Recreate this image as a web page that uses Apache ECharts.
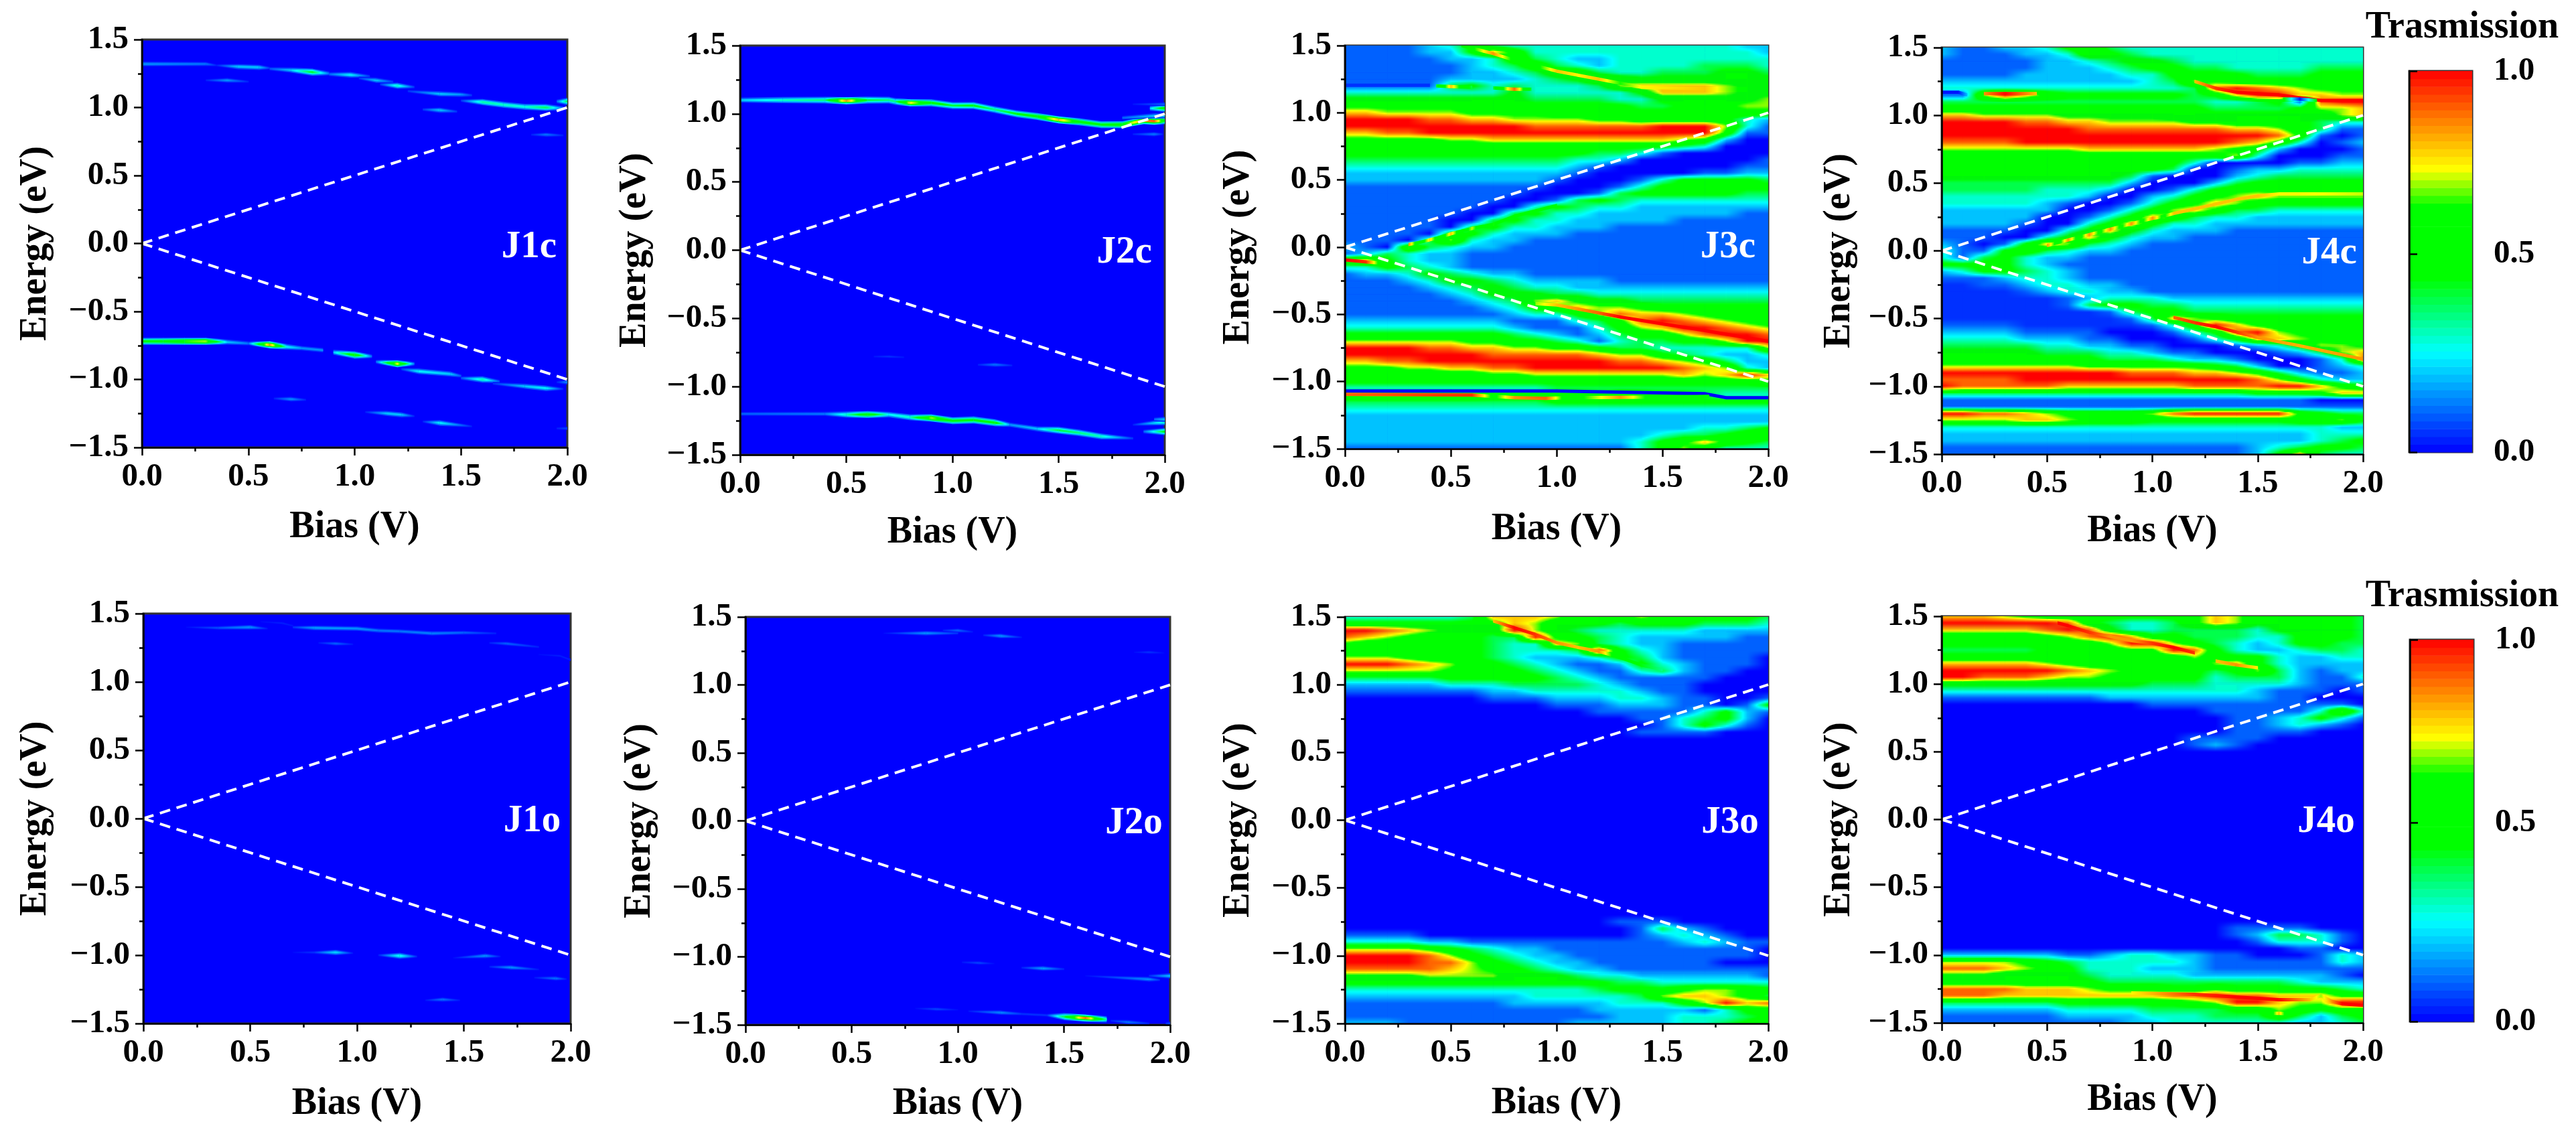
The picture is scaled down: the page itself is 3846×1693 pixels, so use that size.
<!DOCTYPE html>
<html><head><meta charset="utf-8">
<style>html,body{margin:0;padding:0;background:#fff}#c{width:3846px;height:1693px}</style>
<script src="https://cdn.jsdelivr.net/npm/echarts@6/dist/echarts.min.js"></script>
</head><body><div id="c"></div>
<script>
// Transmission. Row = one energy (1.50 eV down to -1.50 eV in 0.05 steps),
// column = one bias (0.0 V to 2.0 V in 0.1 steps). Each digit is tenths of T, 'a' = 1.0, 'o' = 0.05.
const biasValues=[0,.1,.2,.3,.4,.5,.6,.7,.8,.9,1,1.1,1.2,1.3,1.4,1.5,1.6,1.7,1.8,1.9,2];
const blank='000000000000000000000';
const J3cRows=[
'111123543333333333322','111122586333333333332','111112236432233333333','111111234643233334443','111111223466433444554','111112222345765555555','111114534333478888765','333333335333335888766','555555555444433555667','666666555555554455677',
'887777666655555556666','aaaa99887777665555532','aaaaaaaaa999999aaa731','8899aaaaaaaaaaaaaa611','666667788888888876200','555555555555555543000','555555555555443100000','444444444443320000001','333333333332100000011','222222222221000001122',
'222222222210001355554','111111111100013555555','111111111000145555544','111111110014543333333','111111100354332222222','111111004533222222211','111110045332222211111','111110453322211111111','111105532221111111111','111047322111111111111',
'210743221111111111111','124322111111111111111','785322111111111111111','335432111111111111111','122354322111111111111','111235543222211111111','111123454332222222222','111112355544333333333','111111234786554444444','111111123568776555555',
'111111112335798876555','222222221113469a98765','3333333321113578aa987','555555554321245579aa9','7777776655431344557aa','aaaa99887766544333337','aaaaaaa99999877543223','8899aaaaaaaaa99876422','666778899aaaaaaa98732','5555555667777777878a8',
'555555555555555555556','333333333344444444444','677777766666566554333','444444444455555555555','333333333333333333333','222222222222222222222','222222222222222222222','222222222222222223345','222222222222222344566','222222222222223568654',
'111111111111113575333'];
const J4cRows=[
'211223564333333333333','211122365433333333333','111112234554333333333','111112223455443333444','111122222335555444555','222222222234765555555','33333333333349a987666','117a86555555458aa8877','4444444444444334519aa','555555555555544445778',
'887777666665555555578','aaaa99887777665555433','aaaaaaa99999998875411','aaaaaaaaaaaaaaaa96101','9999aaaaaaaaaa9863012','777777788888876520001','555555555555567300011','555555555555300001122','555555555554001223333','555555555410002344444',
'444444444200024555555','444443332001356666555','333333320023567877777','333332100135687555555','222222001357864433333','222220013586433222222','222210035853322222222','111100358532221111111','111003585322111111111','210158743211111111111',
'311564322111111111111','314532211111111111111','555532111111111111111','235543211111111111111','111233211111111111111','oo1123322111111111111','oooo12332211111111111','oooooo123332222222222','oooooo145544333333333','oooooooo1455444444444',
'ooooooooo148765555555','1111oooooo136a8655555','222211110001359a76655','333322211000135887655','444443322110001235776','555554443321100012478','555555554443221000139','777777766666654200123','aaaaaaaaa999887642112','9999aaaaaaaaaaa975322',
'a999998888889999aa865','444444444444444555688','111111111111111111000','111111111111111111111','aa9987666679aaaaa6544','777788766655555556675','333333333333333333322','222222222222222222333','222222222222222222345','111111111111111234554',
'111111111111111258433'];
const J3oRows=[
'333333488875567655554','555555568755545554443','aa987655a754333332222','987655544a65432222211','655555543387432211111','555555543334a53211111','777655543222354211110','aaa987554321125321110','777776555432113421100','444445555543211111000',
'222223334444321110000','111111122333332110000','000000011122233211001','000000000011122211015','000000000000111113521','000000000000001134520','000000000000000135310','000000000000001111000',
...Array(27).fill(blank),
'000000000000011100000','000000000000001421000','111100000000001232100','333322111111111123211','777765432211111111110','aaaa97543221111111110','aaaa99754322111111000','999998765432211111111','666677775554332222221','555555555555544333333',
'333333333333455567765','222222222333334788764','111111112222233357a89','111111111111222221355','111111111111122233345','222111111112222233456'];
const J4oRows=[
'888765555555687555554','aaaaaa954334687555554','888889a95334444355554','55555679a855444335554','555555557aa7543235544','44444555566a953223443','555555555555755532233','888887655555578532222','aaaaaa987655545742122','aa9998776655534442113',
'555555555544433332111','333333333333333211101','111111112222222211000','000000000011111111110','000000000000011111373','000000000000001123531','000000000000001123210','000000000000001111000','000000000000111100000','000000000000121000000',
...Array(26).fill(blank),
'000000000000001111000','000000000000001244310','000000000000000133310','000000000000000001100','222222112332211000132','777765433333211111132','999876533322211111111','666555543333222222210','555555554444444443222','999988876665565555543',
'9998888888899a9988866','44444455555567aa877aa','222222333344445576566','111111222233344464245','111111111223333332234'];

// Narrow transmission ridges, each point [bias, energy, T].
const J1cRidges=[
[[0,1.32,.15],[.3,1.32,.12],[.35,1.31,.03]],[[.35,1.31,.03],[.45,1.3,.2],[.55,1.295,.2],[.6,1.29,.05]],[[.6,1.285,.08],[.7,1.275,.2],[.8,1.26,.42],[.88,1.25,.1]],[[.88,1.245,.1],[.98,1.24,.25],[1.07,1.23,.05]],[[1.02,1.215,.05],[1.1,1.2,.2],[1.18,1.19,.05]],[[1.12,1.17,.05],[1.2,1.16,.3],[1.28,1.15,.05]],[[1.25,1.12,.05],[1.4,1.1,.2],[1.5,1.095,.15],[1.55,1.09,.05]],[[1.5,1.05,.05],[1.6,1.04,.32],[1.7,1.02,.3],[1.8,1.005,.28],[1.9,1,.38],[1.98,.995,.1]],[[1.95,1.045,.1],[2,1.045,.4]],[[.3,1.2,.03],[.4,1.2,.15],[.5,1.19,.03]],[[1.32,.985,.05],[1.4,.98,.2],[1.48,.97,.05]],[[1.83,.8,.03],[1.9,.8,.12],[1.98,.795,.03]],
[[0,-.72,.5],[.1,-.72,.55],[.2,-.72,.65],[.3,-.72,.7],[.4,-.725,.2],[.5,-.735,.12]],[[.5,-.735,.1],[.6,-.745,.85],[.68,-.76,.25],[.75,-.77,.15],[.85,-.785,.15]],[[.9,-.8,.2],[1,-.82,.55],[1.08,-.83,.1]],[[1.1,-.87,.1],[1.2,-.885,.75],[1.28,-.885,.1]],[[1.22,-.925,.05],[1.3,-.94,.25],[1.45,-.96,.2],[1.5,-.975,.08]],[[1.5,-.99,.08],[1.6,-1,.32],[1.68,-1.015,.08]],[[1.65,-1.03,.05],[1.8,-1.05,.2],[1.9,-1.065,.25],[1.98,-1.07,.03]],[[1.95,-1.02,.03],[2,-1.02,.15]],[[.62,-1.14,.03],[.7,-1.145,.15],[.77,-1.15,.03]],[[1.05,-1.24,.03],[1.15,-1.25,.2],[1.22,-1.26,.2],[1.28,-1.27,.03]],[[1.32,-1.31,.03],[1.4,-1.32,.25],[1.55,-1.345,.03]],[[1.95,-1.36,.03],[2,-1.36,.07]]];
const J2cRidges=[
[[0,1.1,.2],[.2,1.1,.3],[.4,1.1,.35],[.5,1.095,.85],[.6,1.1,.4],[.7,1.1,.35],[.73,1.09,.35],[.8,1.08,.75],[.9,1.08,.5],[1,1.06,.4],[1.1,1.06,.45],[1.2,1.03,.35],[1.3,1,.45],[1.4,.98,.55],[1.5,.955,.8],[1.6,.94,.55],[1.7,.92,.5],[1.8,.92,.6],[1.9,.95,.85],[1.95,.945,.9],[2,.95,.5]],
[[1.93,1.04,.2],[2,1.04,.55]],[[1.85,.85,.03],[1.95,.85,.12],[1.99,.85,.03]],[[1.8,.97,.1],[1.95,.985,.2],[2,.985,.2]],[[1.85,1.07,.02],[2,1.07,.1]],
[[0,-1.2,.1],[.4,-1.2,.12],[.5,-1.205,.3],[.6,-1.205,.55],[.7,-1.205,.25],[.8,-1.225,.3],[.9,-1.23,.7],[1,-1.25,.5],[1.1,-1.245,.5],[1.2,-1.265,.5],[1.27,-1.28,.15],[1.4,-1.31,.2],[1.5,-1.32,.4],[1.6,-1.34,.35],[1.7,-1.365,.3],[1.85,-1.38,.05]],
[[1.85,-1.28,.03],[2,-1.26,.3]],[[1.95,-1.24,.1],[2,-1.24,.2]],[[1.9,-1.33,.1],[2,-1.33,.45]],[[.63,-.78,.02],[.7,-.78,.05],[.77,-.785,.02]],[[1.12,-.84,.03],[1.2,-.84,.12],[1.28,-.845,.03]]];
const J1oRidges=[
[[.2,1.4,.01],[.35,1.395,.08],[.5,1.4,.15],[.58,1.39,.02]],[[.55,1.44,.01],[.65,1.43,.03],[.7,1.41,.02]],[[.7,1.4,.05],[.8,1.395,.16],[1,1.39,.15],[1.1,1.375,.12],[1.2,1.37,.12],[1.35,1.355,.13],[1.5,1.36,.1],[1.65,1.355,.03]],[[.82,1.285,.02],[.9,1.28,.1],[.98,1.275,.02]],[[1.62,1.285,.03],[1.7,1.28,.1],[1.85,1.255,.03]],[[1.85,1.2,.01],[1.95,1.19,.03],[2,1.16,.03]],
[[.7,-.98,.01],[.8,-.98,.05],[.9,-.98,.22],[.98,-.985,.02]],[[1.1,-1,.03],[1.2,-1.005,.28],[1.28,-1.01,.03]],[[1.45,-1.02,.01],[1.6,-1.005,.15],[1.67,-1.01,.02]],[[1.62,-1.085,.03],[1.72,-1.09,.15],[1.85,-1.105,.02]],[[1.83,-1.165,.02],[1.93,-1.17,.12],[1.98,-1.175,.02]],[[1.32,-1.33,.02],[1.4,-1.325,.12],[1.48,-1.33,.02]]];
const J2oRidges=[
[[.65,1.38,.01],[.85,1.38,.15],[1,1.38,.05]],[[.93,1.4,.03],[1,1.4,.1],[1.07,1.39,.02]],[[1.12,1.365,.03],[1.2,1.36,.15],[1.3,1.35,.02]],[[1.83,1.24,.01],[1.9,1.24,.05],[1.97,1.235,.01]],
[[1.02,-1.04,.02],[1.1,-1.045,.07],[1.17,-1.05,.01]],[[1.3,-1.08,.03],[1.4,-1.085,.16],[1.5,-1.09,.03]],[[1.6,-1.14,.01],[1.9,-1.165,.15],[1.95,-1.17,.04]],[[1.9,-1.14,.04],[2,-1.14,.2]],[[.8,-1.38,.01],[.9,-1.385,.07],[1,-1.39,.01]],[[1.05,-1.4,.02],[1.2,-1.41,.14],[1.3,-1.42,.05],[1.42,-1.43,.05],[1.5,-1.44,.4],[1.6,-1.45,.9],[1.7,-1.46,.3]],[[1.72,-1.47,.03],[1.8,-1.48,.12],[1.9,-1.49,.03]],[[1.98,-1.49,.05],[2,-1.49,.08]]];
const J3cLines=[
[[0,-1.07,0],[.5,-1.07,0],[1,-1.07,.02],[1.7,-1.09,0],[1.8,-1.12,0],[2,-1.12,0]],
[[0,-1.095,.9],[.6,-1.1,.95],[.7,-1.11,.6],[.8,-1.12,.85],[.95,-1.125,.9],[1.05,-1.12,.55],[1.3,-1.118,.85],[1.5,-1.115,.5],[1.72,-1.11,.45]],
[[0,1.205,.05],[.4,1.205,.05]],[[.43,1.2,.4],[.5,1.195,.8],[.6,1.19,.4]],[[.7,1.185,.4],[.8,1.175,.9],[.88,1.175,.4]],[[0,-.095,1],[.1,-.11,.95],[.18,-.12,.5]],
[[.55,1.5,.5],[.7,1.44,.85],[.8,1.39,.6],[.9,1.35,.6],[1,1.31,.8],[1.1,1.28,.75],[1.2,1.25,.8],[1.3,1.22,.65],[1.4,1.19,.75],[1.7,1.18,.8]],
[[.3,.02,.85],[.35,.035,.5],[.4,.055,.78],[.45,.075,.5],[.5,.1,.8],[.55,.12,.5],[.6,.14,.72],[.65,.155,.5],[.7,.17,.65],[.8,.23,.6],[.9,.27,.6],[1,.31,.55]],
[[.9,-.42,.7],[1,-.43,.8],[1.1,-.46,.85],[1.2,-.49,.9],[1.3,-.52,1],[1.5,-.57,1],[1.7,-.62,1],[2,-.7,1]]];
const J4cLines=[
[[0,1.17,.02],[.08,1.17,.02],[.12,1.15,.2]],[[.2,1.16,.85],[.3,1.16,1],[.45,1.16,.8]],
[[.5,.04,.85],[.55,.06,.55],[.6,.08,.85],[.65,.1,.55],[.7,.12,.85],[.75,.14,.6],[.8,.16,.85],[.85,.18,.6],[.9,.2,.85],[.95,.22,.6],[1,.24,.85],[1.05,.255,.6],[1.1,.275,.8],[1.2,.31,.8],[1.3,.345,.8],[1.4,.38,.8],[1.5,.405,.8],[1.6,.42,.75],[1.7,.42,.75],[2,.42,.72]],
[[1.1,-.49,.9],[1.2,-.53,.95],[1.3,-.56,1],[1.4,-.6,.95],[1.5,-.64,.85],[1.7,-.7,.82],[2,-.8,.85]],
[[1.2,1.25,.8],[1.3,1.2,.95],[1.4,1.17,1],[1.6,1.15,1],[1.8,1.11,1],[2,1.11,1]],
[[1.62,1.12,.5],[1.7,1.12,.02],[1.78,1.11,.5]]];
const J3oLines=[
[[.7,1.47,.8],[.8,1.42,1],[.9,1.37,.95],[1,1.31,.85],[1.1,1.275,.8],[1.2,1.245,.85],[1.3,1.2,.5],[1.4,1.145,.45],[1.5,1.11,.35]]];
const J4oLines=[
[[.55,1.45,1],[.6,1.43,1],[.7,1.38,.95],[.8,1.35,.85],[.9,1.32,.85],[1,1.3,.95],[1.1,1.27,1],[1.2,1.23,.95]],
[[1.3,1.17,.8],[1.4,1.14,.85],[1.5,1.12,.75]],
[[.9,-1.28,.75],[1.2,-1.29,.95],[1.4,-1.31,1],[1.6,-1.33,1],[1.75,-1.33,.8],[1.8,-1.3,.7],[1.85,-1.34,.85],[1.9,-1.36,1],[2,-1.37,1]],
[[1.55,-1.43,.5],[1.6,-1.43,.8],[1.65,-1.435,.5]]];

const xTicks={min:0,max:2,step:.5};
const yTicks={min:-1.5,max:1.5,step:.5};
const guideBias=[0,2];
const guideUpper=[0,1];
const guideLower=[0,-1];
const barTickPos=[0,.52,1];
const barTickText=['0.0','0.5','1.0'];

const panels=[
{n:'J1c',L:212,R:847,T:59,B:668,rows:null,ridges:J1cRidges,yg:130,xg:92,lb:1.82,le:-.03},
{n:'J2c',L:1105,R:1739,T:68,B:679,rows:null,ridges:J2cRidges,yg:128,xg:89,lb:1.81,le:-.02},
{n:'J3c',L:2008,R:2640,T:68,B:670,rows:J3cRows,lines:J3cLines,yg:130,xg:93,lb:1.81,le:0},
{n:'J4c',L:2899,R:3528,T:71,B:678,rows:J4cRows,lines:J4cLines,yg:124,xg:88,lb:1.84,le:-.02},
{n:'J1o',L:214,R:852,T:916,B:1528,rows:null,ridges:J1oRidges,yg:132,xg:93,lb:1.82,le:-.02},
{n:'J2o',L:1113,R:1747,T:921,B:1530,rows:null,ridges:J2oRidges,yg:129,xg:91,lb:1.83,le:-.02},
{n:'J3o',L:2008,R:2640,T:921,B:1528,rows:J3oRows,lines:J3oLines,yg:130,xg:92,lb:1.82,le:-.02},
{n:'J4o',L:2899,R:3528,T:920,B:1527,rows:J4oRows,lines:J4oLines,yg:124,xg:88,lb:1.825,le:-.02}];
const bars=[{L:3597,R:3691,T:106,B:675,tx:3676,ty:14},{L:3598,R:3693,T:955,B:1525,tx:3676,ty:863}];

const FONT='Liberation Serif';
const knots=[[0,[0,0,255]],[.263,[0,255,255]],[.457,[0,255,0]],[.645,[0,255,0]],[.743,[255,255,0]],[1,[255,0,0]]];
function colorAt(u){
  u=Math.max(0,Math.min(1,u));
  for(let i=1;i<knots.length;i++){
    if(u<=knots[i][0]){
      const a=knots[i-1],b=knots[i],t=(u-a[0])/(b[0]-a[0]);
      return 'rgb('+a[1].map((c,k)=>Math.round(c+(b[1][k]-c)*t)).join(',')+')';
    }
  }
  return 'rgb(255,0,0)';
}
function paint(a,b){
  if(Math.abs(a-b)<1e-3) return colorAt(a);
  const st=[{offset:0,color:colorAt(a)}],lo=Math.min(a,b),hi=Math.max(a,b),inner=[];
  knots.forEach(k=>{if(k[0]>lo&&k[0]<hi)inner.push({offset:(k[0]-a)/(b-a),color:colorAt(k[0])});});
  inner.sort((p,q)=>p.offset-q.offset);
  return {type:'linear',x:0,y:0,x2:1,y2:0,colorStops:st.concat(inner,[{offset:1,color:colorAt(b)}])};
}
const digit=c=>c==='a'?1:c==='o'?.05:(+c)/10;
const energyAt=j=>yTicks.max-j*.05;
function cellData(rows){
  const d=[];
  for(let j=0;j<rows.length-1;j++)for(let i=0;i<biasValues.length-1;i++){
    d.push([biasValues[i],biasValues[i+1],energyAt(j),energyAt(j+1),digit(rows[j][i]),digit(rows[j][i+1]),digit(rows[j+1][i]),digit(rows[j+1][i+1])]);
  }
  return d;
}
function renderCell(p,api){
  const tl=api.coord([api.value(0),api.value(2)]),br=api.coord([api.value(1),api.value(3)]);
  const a=api.value(4),b=api.value(5),c=api.value(6),d=api.value(7);
  const K=(a===c&&b===d)?1:5,kids=[];
  for(let k=0;k<K;k++){
    const s=K===1?0:(k+.5)/K,y0=tl[1]+(br[1]-tl[1])*k/K,y1=tl[1]+(br[1]-tl[1])*(k+1)/K;
    kids.push({type:'rect',silent:true,shape:{x:tl[0],y:y0,width:br[0]-tl[0]+.6,height:y1-y0+.6},
      style:{fill:paint(a+(c-a)*s,b+(d-b)*s)}});
  }
  return {type:'group',children:kids};
}
function segments(list){
  const d=[];
  list.forEach(r=>{for(let i=0;i<r.length-1;i++)d.push([r[i][0],r[i][1],r[i][2],r[i+1][0],r[i+1][1],r[i+1][2]]);});
  return d;
}
function renderRidge(layers,fixed){
  return function(p,api){
    const P=api.coord([api.value(0),api.value(1)]),Q=api.coord([api.value(3),api.value(4)]);
    const t0=api.value(2),t1=api.value(5);
    const size=t=>fixed?1:Math.min(1.3,Math.sqrt(t/.3)+.15);
    return {type:'group',children:layers.map(l=>{
      const h0=l.h*size(t0),h1=l.h*size(t1);
      return {type:'polygon',silent:true,shape:{points:[[P[0],P[1]-h0],[Q[0]+.5,Q[1]-h1],[Q[0]+.5,Q[1]+h1],[P[0],P[1]+h0]]},
        style:{fill:paint(t0*l.f,t1*l.f)}};
    })};
  };
}
const halo=[{h:4,f:.3},{h:2.6,f:.65},{h:1.3,f:1}];
const core=[{h:2.5,f:1}];
const fmt=v=>(v<0?'\u2212':'')+Math.abs(v).toFixed(1);
const labelStyle={color:'#000',fontFamily:FONT,fontWeight:'bold',fontSize:49};
const nameStyle={color:'#000',fontFamily:FONT,fontWeight:'bold',fontSize:56};
const tickLine={color:'#000',width:2.5};

const grid=[],xAxis=[],yAxis=[],series=[],title=[];
panels.forEach((p,i)=>{
  grid.push({left:p.L,top:p.T,width:p.R-p.L,height:p.B-p.T,show:true,backgroundColor:'#0000ff',borderColor:'#333',borderWidth:3,containLabel:false});
  xAxis.push({type:'value',gridIndex:i,min:xTicks.min,max:xTicks.max,interval:xTicks.step,z:5,
    name:'Bias (V)',nameLocation:'middle',nameGap:p.xg,nameTextStyle:nameStyle,
    axisLine:{show:true,onZero:false,lineStyle:tickLine},axisTick:{show:true,length:12,lineStyle:tickLine},
    minorTick:{show:true,splitNumber:2,length:6,lineStyle:tickLine},splitLine:{show:false},minorSplitLine:{show:false},
    axisLabel:{...labelStyle,margin:20,formatter:fmt,hideOverlap:false}});
  yAxis.push({type:'value',gridIndex:i,min:yTicks.min,max:yTicks.max,interval:yTicks.step,z:5,
    name:'Energy (eV)',nameLocation:'middle',nameGap:p.yg,nameRotate:90,nameTextStyle:nameStyle,
    axisLine:{show:true,onZero:false,lineStyle:tickLine},axisTick:{show:true,length:12,lineStyle:tickLine},
    minorTick:{show:true,splitNumber:2,length:6,lineStyle:tickLine},splitLine:{show:false},minorSplitLine:{show:false},
    axisLabel:{...labelStyle,margin:20,formatter:fmt,hideOverlap:false}});
  const base={coordinateSystem:'cartesian2d',xAxisIndex:i,yAxisIndex:i,silent:true,clip:true,animation:false,progressive:0};
  if(p.rows) series.push({...base,type:'custom',name:p.n,z:2,encode:{x:[0,1],y:[2,3]},data:cellData(p.rows),renderItem:renderCell});
  if(p.ridges) series.push({...base,type:'custom',name:p.n,z:3,encode:{x:[0,3],y:[1,4]},data:segments(p.ridges),renderItem:renderRidge(halo,false)});
  if(p.lines) series.push({...base,type:'custom',name:p.n+' fine',z:3,encode:{x:[0,3],y:[1,4]},data:segments(p.lines),renderItem:renderRidge(core,true)});
  [guideUpper,guideLower].forEach(g=>series.push({...base,type:'line',z:4,symbol:'none',
    data:[[guideBias[0],g[0]],[guideBias[1],g[1]]],lineStyle:{color:'#fff',width:4,type:[16,10]}}));
  series.push({...base,type:'custom',z:6,clip:false,encode:{x:0,y:1},data:[[p.lb,p.le]],renderItem:(q,api)=>{
    const c=api.coord([api.value(0),api.value(1)]);
    return {type:'text',silent:true,x:c[0],y:c[1],style:{text:p.n,fill:'#fff',font:'bold 57px "'+FONT+'"',align:'center',verticalAlign:'middle'}};
  }});
});
bars.forEach((b,k)=>{
  const i=panels.length+k;
  grid.push({left:b.L,top:b.T,width:b.R-b.L,height:b.B-b.T,show:true,borderColor:'#333',borderWidth:3});
  xAxis.push({type:'value',gridIndex:i,min:0,max:1,show:false});
  yAxis.push({type:'value',gridIndex:i,min:0,max:1,position:'right',z:5,
    axisLine:{show:true,lineStyle:tickLine},splitLine:{show:false},
    axisTick:{show:true,length:12,lineStyle:tickLine,customValues:barTickPos},
    axisLabel:{...labelStyle,margin:32,customValues:barTickPos,formatter:v=>barTickText[barTickPos.indexOf(v)]}});
  const levels=[];for(let j=0;j<49;j++)levels.push([j/49,(j+1)/49]);
  series.push({type:'custom',coordinateSystem:'cartesian2d',xAxisIndex:i,yAxisIndex:i,silent:true,z:2,animation:false,progressive:0,
    encode:{y:[0,1]},data:levels,renderItem:(q,api)=>{
      const a=api.value(0),c=api.value(1),P=api.coord([0,c]),Q=api.coord([1,a]);
      return {type:'rect',silent:true,shape:{x:P[0],y:P[1],width:Q[0]-P[0],height:Q[1]-P[1]+.6},style:{fill:colorAt((a+c)/2)}};
    }});
  title.push({text:'Trasmission',left:b.tx,top:b.ty,padding:0,textAlign:'center',textStyle:nameStyle});
});
const chart=echarts.init(document.getElementById('c'),null,{renderer:'canvas',width:3846,height:1693});
chart.setOption({backgroundColor:'#fff',animation:false,tooltip:{show:false},title,grid,xAxis,yAxis,series});
</script></body></html>
